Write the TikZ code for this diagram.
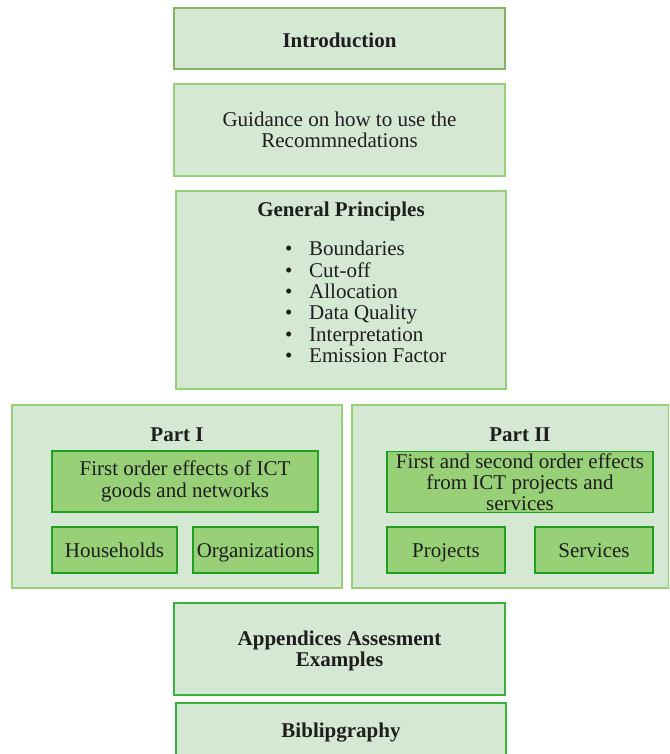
\documentclass[tikz,border=0pt]{standalone}
\usepackage{fontspec}
\setmainfont{Liberation Serif}
\definecolor{paleFill}{HTML}{D5E8D4}
\definecolor{lightEdge}{HTML}{97D077}
\definecolor{midEdge}{HTML}{82B366}
\definecolor{leafFill}{HTML}{97D077}
\definecolor{leafEdge}{HTML}{1FA01F}
\definecolor{strongEdge}{HTML}{3CB03C}
\definecolor{ink}{HTML}{1E1E1E}
\tikzset{
  box/.style={draw=lightEdge, fill=paleFill, line width=1.2pt, rectangle, inner sep=0pt},
  leaf/.style={draw=leafEdge, fill=leafFill, line width=1.2pt, rectangle, inner sep=0pt,
    text=ink, align=center, font=\fontsize{21}{21.4}\selectfont},
  oneline/.style={text height=16pt, text depth=2pt},
  lbl/.style={text=ink, align=center, inner sep=0pt, font=\fontsize{21}{21.4}\selectfont},
  hd/.style={text=ink, align=center, inner sep=0pt, yshift=-2pt,
    font=\fontsize{21}{21.4}\selectfont\bfseries},
}
\begin{document}
\begin{tikzpicture}[x=1pt,y=-1pt]
\useasboundingbox (0,0) rectangle (669,754);
\begin{scope}
\clip (0,0) rectangle (669,754);

% top sections
\node[box, draw=midEdge, minimum width=331pt, minimum height=61pt] (intro) at (339.5,38.5) {};
\node[hd] (introT) at (intro.center) {Introduction};

\node[box, minimum width=331pt, minimum height=92pt] (guide) at (339.5,130) {};
\node[lbl] (guideT) at (guide.center) {Guidance on how to use the\\Recommnedations};

% general principles with bullet list
\node[box, minimum width=330pt, minimum height=198pt] (gp) at (341,290) {};
\node[hd] (gpT) at (341,209) {General Principles};
\node[lbl, align=left, anchor=west] (gpList) at (285,302) {%
  \makebox[24pt][l]{\textbullet}Boundaries\\
  \makebox[24pt][l]{\textbullet}Cut-off\\
  \makebox[24pt][l]{\textbullet}Allocation\\
  \makebox[24pt][l]{\textbullet}Data Quality\\
  \makebox[24pt][l]{\textbullet}Interpretation\\
  \makebox[24pt][l]{\textbullet}Emission Factor};

% Part I
\node[box, minimum width=330pt, minimum height=183pt] (p1) at (177,496.5) {};
\node[hd] (p1T) at (177,433) {Part I};
\node[leaf, minimum width=266pt, minimum height=61pt] (p1a) at (185,481.5) {First order effects of ICT\\goods and networks};
\node[leaf, oneline, minimum width=125pt, minimum height=46pt] (hh) at (114.5,550) {Households};
\node[leaf, oneline, minimum width=125pt, minimum height=46pt] (org) at (255.5,550) {Organizations};

% Part II
\node[box, minimum width=317pt, minimum height=183pt] (p2) at (510.5,496.5) {};
\node[hd] (p2T) at (520,433) {Part II};
\node[leaf, minimum width=266pt, minimum height=61pt, font=\fontsize{21}{20.8}\selectfont] (p2a) at (520,482) {First and second order effects\\from ICT projects and\\services};
\node[leaf, oneline, minimum width=118pt, minimum height=46pt] (proj) at (446,550) {Projects};
\node[leaf, oneline, minimum width=118pt, minimum height=46pt] (serv) at (594,550) {Services};

% closing sections
\node[box, draw=strongEdge, minimum width=331pt, minimum height=92pt] (app) at (339.5,649) {};
\node[hd] (appT) at (app.center) {Appendices Assesment\\Examples};

\node[box, draw=strongEdge, minimum width=330pt, minimum height=60pt] (bib) at (341,733) {};
\node[hd] (bibT) at (341,731) {Biblipgraphy};
\end{scope}
\end{tikzpicture}
\end{document}
